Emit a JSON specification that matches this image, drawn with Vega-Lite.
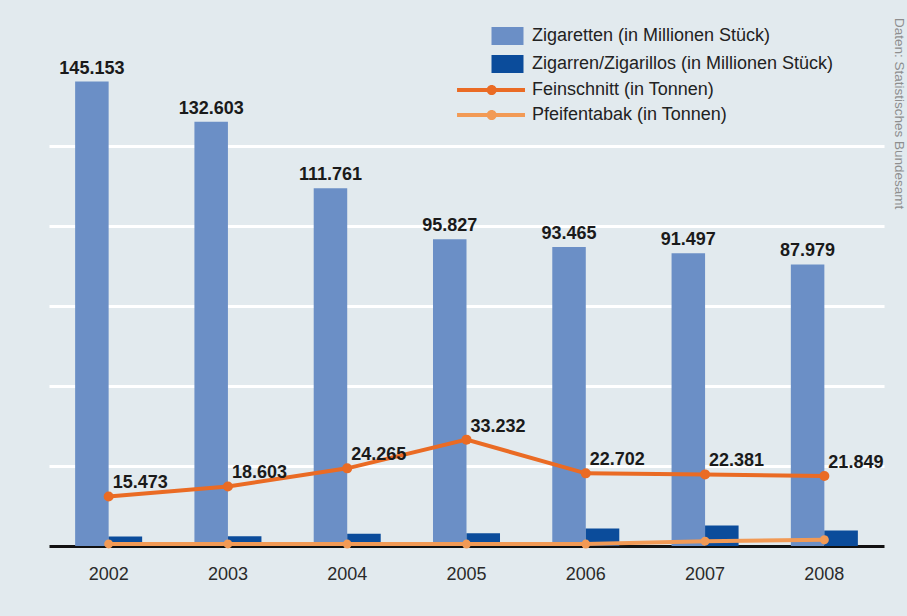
{
  "$schema": "https://vega.github.io/schema/vega-lite/v6.json",
  "width": 835,
  "height": 540,
  "autosize": {"type": "none"},
  "padding": {"left": 49, "top": 6, "right": 23, "bottom": 70},
  "background": "#e2eaee",
  "title": {
    "text": "Daten: Statistisches Bundesamt",
    "orient": "right",
    "anchor": "start",
    "fontSize": 13.5,
    "fontWeight": "normal",
    "color": "#8e8e8e",
    "offset": 8,
    "dx": 12,
    "font": "Liberation Sans Narrow, Liberation Sans"
  },
  "config": {
    "view": {"stroke": null},
    "font": "Liberation Sans",
    "locale": {"number": {"decimal": ",", "thousands": ".", "grouping": [3], "currency": ["", " €"]}}
  },
  "data": {
    "values": [
      {"year": "2002", "series": "Zigaretten (in Millionen Stück)", "value": 145153},
      {"year": "2003", "series": "Zigaretten (in Millionen Stück)", "value": 132603},
      {"year": "2004", "series": "Zigaretten (in Millionen Stück)", "value": 111761},
      {"year": "2005", "series": "Zigaretten (in Millionen Stück)", "value": 95827},
      {"year": "2006", "series": "Zigaretten (in Millionen Stück)", "value": 93465},
      {"year": "2007", "series": "Zigaretten (in Millionen Stück)", "value": 91497},
      {"year": "2008", "series": "Zigaretten (in Millionen Stück)", "value": 87979},
      {"year": "2002", "series": "Zigarren/Zigarillos (in Millionen Stück)", "value": 3000},
      {"year": "2003", "series": "Zigarren/Zigarillos (in Millionen Stück)", "value": 3050},
      {"year": "2004", "series": "Zigarren/Zigarillos (in Millionen Stück)", "value": 3800},
      {"year": "2005", "series": "Zigarren/Zigarillos (in Millionen Stück)", "value": 4000},
      {"year": "2006", "series": "Zigarren/Zigarillos (in Millionen Stück)", "value": 5500},
      {"year": "2007", "series": "Zigarren/Zigarillos (in Millionen Stück)", "value": 6400},
      {"year": "2008", "series": "Zigarren/Zigarillos (in Millionen Stück)", "value": 4850},
      {"year": "2002", "series": "Feinschnitt (in Tonnen)", "value": 15473},
      {"year": "2003", "series": "Feinschnitt (in Tonnen)", "value": 18603},
      {"year": "2004", "series": "Feinschnitt (in Tonnen)", "value": 24265},
      {"year": "2005", "series": "Feinschnitt (in Tonnen)", "value": 33232},
      {"year": "2006", "series": "Feinschnitt (in Tonnen)", "value": 22702},
      {"year": "2007", "series": "Feinschnitt (in Tonnen)", "value": 22381},
      {"year": "2008", "series": "Feinschnitt (in Tonnen)", "value": 21849},
      {"year": "2002", "series": "Pfeifentabak (in Tonnen)", "value": 650},
      {"year": "2003", "series": "Pfeifentabak (in Tonnen)", "value": 650},
      {"year": "2004", "series": "Pfeifentabak (in Tonnen)", "value": 600},
      {"year": "2005", "series": "Pfeifentabak (in Tonnen)", "value": 600},
      {"year": "2006", "series": "Pfeifentabak (in Tonnen)", "value": 600},
      {"year": "2007", "series": "Pfeifentabak (in Tonnen)", "value": 1500},
      {"year": "2008", "series": "Pfeifentabak (in Tonnen)", "value": 1950}
    ]
  },
  "encoding": {
    "x": {
      "field": "year",
      "type": "ordinal",
      "scale": {"paddingInner": 0, "paddingOuter": 0},
      "axis": {
        "title": null,
        "labelAngle": 0,
        "ticks": false,
        "tickSize": 0,
        "labelPadding": 19,
        "labelFontSize": 18,
        "labelColor": "#2a2a2a",
        "labelFont": "Liberation Sans",
        "domain": true,
        "domainColor": "#111111",
        "domainWidth": 3,
        "grid": false
      }
    },
    "y": {
      "field": "value",
      "type": "quantitative",
      "scale": {"domain": [0, 168750], "nice": false},
      "axis": {
        "title": null,
        "values": [25000, 50000, 75000, 100000, 125000],
        "labels": false,
        "ticks": false,
        "domain": false,
        "grid": true,
        "gridColor": "#ffffff",
        "gridWidth": 3,
        "gridOpacity": 1
      }
    }
  },
  "layer": [
    {
      "transform": [{"filter": {"field": "series", "oneOf": ["Zigaretten (in Millionen Stück)", "Zigarren/Zigarillos (in Millionen Stück)"]}}],
      "mark": {"type": "bar"},
      "encoding": {
        "xOffset": {
          "field": "series",
          "type": "nominal",
          "scale": {"domain": ["Zigaretten (in Millionen Stück)", "Zigarren/Zigarillos (in Millionen Stück)"], "paddingInner": 0, "paddingOuter": 0.78}
        },
        "fill": {
          "field": "series",
          "type": "nominal",
          "scale": {"domain": ["Zigaretten (in Millionen Stück)", "Zigarren/Zigarillos (in Millionen Stück)"], "range": ["#6b8fc6", "#0b4c9b"]},
          "legend": {
            "orient": "none",
            "legendX": 457,
            "legendY": 21,
            "title": null,
            "padding": 0,
            "symbolType": "M-2.61,-1H0.944V1H-2.61Z",
            "symbolSize": 324,
            "symbolStrokeWidth": 0,
            "labelFontSize": 18,
            "labelColor": "#222222",
            "labelFont": "Liberation Sans",
            "labelOffset": 8,
            "labelLimit": 400,
            "rowPadding": 10
          }
        }
      }
    },
    {
      "transform": [{"filter": {"field": "series", "equal": "Zigaretten (in Millionen Stück)"}}],
      "mark": {"type": "text", "align": "center", "baseline": "bottom", "dy": -4, "fontSize": 18, "fontWeight": "bold", "color": "#1a1a1a", "font": "Liberation Sans"},
      "encoding": {
        "xOffset": {
          "field": "series",
          "type": "nominal",
          "scale": {"domain": ["Zigaretten (in Millionen Stück)", "Zigarren/Zigarillos (in Millionen Stück)"], "paddingInner": 0, "paddingOuter": 0.78}
        },
        "text": {"field": "value", "type": "quantitative", "format": ",d"}
      }
    },
    {
      "transform": [{"filter": {"field": "series", "oneOf": ["Feinschnitt (in Tonnen)", "Pfeifentabak (in Tonnen)"]}}],
      "mark": {"type": "line", "strokeWidth": 4},
      "encoding": {
        "stroke": {
          "field": "series",
          "type": "nominal",
          "scale": {"domain": ["Feinschnitt (in Tonnen)", "Pfeifentabak (in Tonnen)"], "range": ["#ea6b24", "#f29a55"]},
          "legend": {
            "orient": "none",
            "legendX": 457,
            "legendY": 75,
            "title": null,
            "padding": 0,
            "symbolType": "M-6.44,-0.22H1.11V0.22H-6.44Z M-2.03,0A0.56,0.56 0 0,1 -3.15,0A0.56,0.56 0 0,1 -2.03,0Z",
            "symbolSize": 324,
            "symbolStrokeWidth": 0,
            "labelFontSize": 18,
            "labelColor": "#222222",
            "labelFont": "Liberation Sans",
            "labelOffset": 8,
            "labelLimit": 400,
            "rowPadding": 7,
            "encode": {"symbols": {"update": {"fill": {"scale": "stroke", "field": "value"}, "strokeWidth": {"value": 0}}}}
          }
        }
      }
    },
    {
      "transform": [{"filter": {"field": "series", "equal": "Pfeifentabak (in Tonnen)"}}],
      "mark": {"type": "circle", "size": 80, "color": "#f29a55", "opacity": 1}
    },
    {
      "transform": [{"filter": {"field": "series", "equal": "Feinschnitt (in Tonnen)"}}],
      "mark": {"type": "circle", "size": 100, "color": "#ea6b24", "opacity": 1}
    },
    {
      "transform": [{"filter": {"field": "series", "equal": "Feinschnitt (in Tonnen)"}}],
      "mark": {"type": "text", "align": "left", "baseline": "bottom", "dx": 4, "dy": -4, "fontSize": 18, "fontWeight": "bold", "color": "#1a1a1a", "font": "Liberation Sans"},
      "encoding": {
        "text": {"field": "value", "type": "quantitative", "format": ",d"}
      }
    }
  ]
}
